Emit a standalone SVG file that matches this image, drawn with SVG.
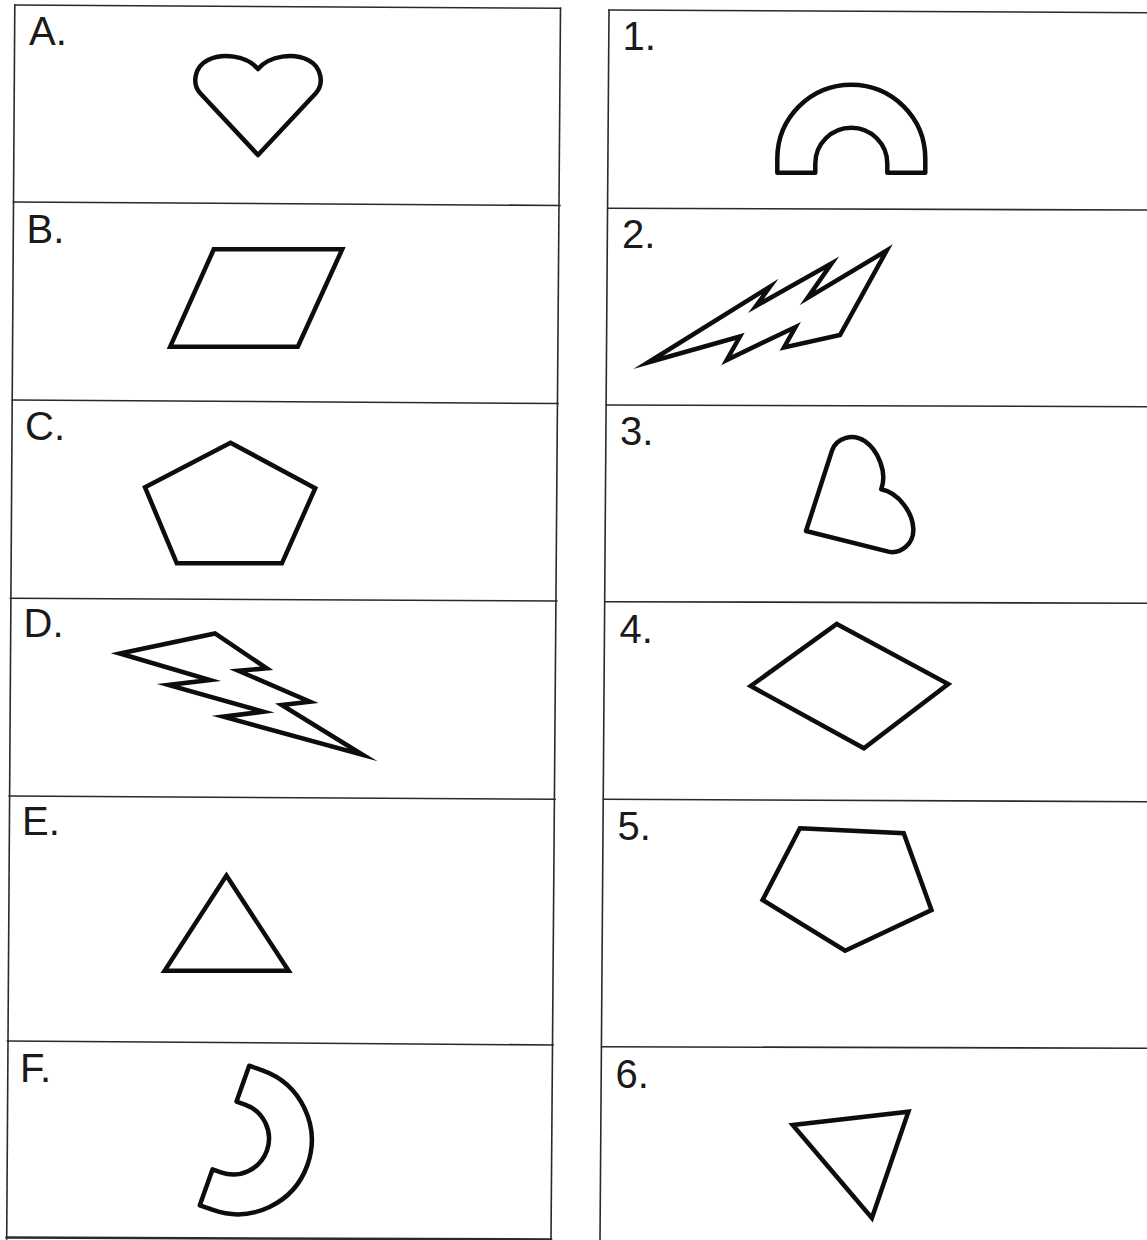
<svg xmlns="http://www.w3.org/2000/svg" xmlns:xlink="http://www.w3.org/1999/xlink" width="1147" height="1240" viewBox="0 0 1147 1240">
  <style>
    .frame { stroke: #2a2a2a; stroke-width: 1.6; fill: none; stroke-linecap: square; }
    .shape { stroke: #0d0d0d; stroke-width: 4.5; fill: none; stroke-linejoin: miter; stroke-miterlimit: 12; }
    .round { stroke-linejoin: round; }
    .label { font-family: "Liberation Sans", Arial, sans-serif; font-size: 40px; fill: #1a1a1a; }
  </style>
  <defs>
    <path id="heart" d="M0,0 L-58,-62 C-66,-71 -64,-88 -50,-95 C-36,-102 -12,-100 0,-86 C12,-100 36,-102 50,-95 C64,-88 66,-71 58,-62 Z"/>
    <path id="arch" d="M-74,0 L-74,-14 A74,74 0 0 1 74,-14 L74,0 L36,0 L36,-9 A36,36 0 0 0 -36,-9 L-36,0 Z"/>
  </defs>
  <rect x="0" y="0" width="1147" height="1240" fill="#ffffff"/>

  <g id="frames">
    <!-- left column -->
    <line class="frame" x1="14.8" y1="5" x2="560.5" y2="8.3"/>
    <line class="frame" x1="13.5" y1="202" x2="560" y2="205.5"/>
    <line class="frame" x1="12.3" y1="400" x2="558" y2="403.5"/>
    <line class="frame" x1="10.5" y1="598.3" x2="556.8" y2="601"/>
    <line class="frame" x1="9.2" y1="796" x2="555" y2="799.3"/>
    <line class="frame" x1="7.5" y1="1041" x2="553" y2="1045"/>
    <line class="frame" x1="6.7" y1="1237.5" x2="551" y2="1239.5" style="stroke-width:2.5"/>
    <line class="frame" x1="14.8" y1="5" x2="6.7" y2="1239"/>
    <line class="frame" x1="560.5" y1="8.3" x2="551" y2="1239.5"/>
    <!-- right column -->
    <line class="frame" x1="609" y1="10" x2="1147" y2="12.7"/>
    <line class="frame" x1="608" y1="208.3" x2="1147" y2="210"/>
    <line class="frame" x1="606.3" y1="405" x2="1147" y2="406.7"/>
    <line class="frame" x1="604.8" y1="601.7" x2="1147" y2="603.3"/>
    <line class="frame" x1="603.5" y1="799.3" x2="1147" y2="801.7"/>
    <line class="frame" x1="601.7" y1="1046.7" x2="1147" y2="1048.3"/>
    <line class="frame" x1="609" y1="10" x2="600" y2="1240"/>
  </g>

  <g id="cell-A">
    <text class="label" x="29" y="45">A.</text>
    <use xlink:href="#heart" href="#heart" class="shape round" transform="translate(258,155)"/>
  </g>
  <g id="cell-B">
    <text class="label" x="26.5" y="242.7">B.</text>
    <polygon class="shape" points="213.8,249.3 342.2,249.3 297.8,346.7 170.2,346.7"/>
  </g>
  <g id="cell-C">
    <text class="label" x="25" y="440">C.</text>
    <polygon class="shape" points="230.5,442.7 315.2,488.3 281.9,563.3 176.8,563.3 145,487.3"/>
  </g>
  <g id="cell-D">
    <text class="label" x="23.5" y="637.3">D.</text>
    <polygon class="shape" points="120,653.5 215,633.5 266.7,668.3 238.3,670.7 310,701.7 281.7,705 363,755 223.3,716.7 263.3,711.7 168.3,685 210,680"/>
  </g>
  <g id="cell-E">
    <text class="label" x="22" y="835">E.</text>
    <polygon class="shape" points="226.4,875.5 288.6,970.7 164.6,970.7"/>
  </g>
  <g id="cell-F">
    <text class="label" x="20" y="1081.7">F.</text>
    <use xlink:href="#arch" href="#arch" class="shape round" transform="translate(224.5,1135.5) rotate(109.5)"/>
  </g>

  <g id="cell-1">
    <text class="label" x="622.6" y="50">1.</text>
    <use xlink:href="#arch" href="#arch" class="shape round" transform="translate(851.3,172.7)"/>
  </g>
  <g id="cell-2">
    <text class="label" x="622" y="248.3">2.</text>
    <polygon class="shape" points="648,362.5 770,286.7 756,306 831.7,263.3 807.5,298 886.7,250.5 840,335 784,347.5 795.5,327 726.7,360 740,336.5"/>
  </g>
  <g id="cell-3">
    <text class="label" x="620" y="445">3.</text>
    <use xlink:href="#heart" href="#heart" class="shape round" transform="translate(806,531) rotate(61)"/>
  </g>
  <g id="cell-4">
    <text class="label" x="619.5" y="642.7">4.</text>
    <polygon class="shape" points="836.8,624 948.2,684 863.9,748.3 750.7,686"/>
  </g>
  <g id="cell-5">
    <text class="label" x="617.5" y="840">5.</text>
    <polygon class="shape" points="799.9,828.3 903.7,833.3 931.5,910 845.1,950.7 762.6,900"/>
  </g>
  <g id="cell-6">
    <text class="label" x="615.5" y="1088.3">6.</text>
    <polygon class="shape" points="792.7,1125 908.4,1111.7 871.9,1218"/>
  </g>
</svg>
